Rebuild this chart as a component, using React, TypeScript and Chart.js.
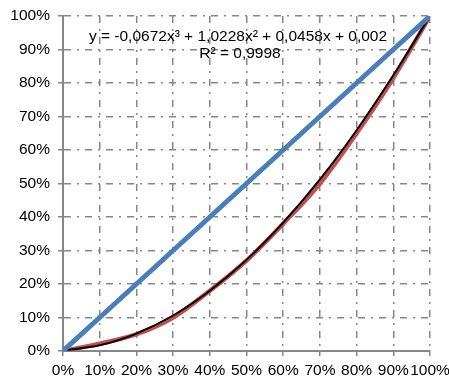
import React, { useEffect, useRef } from "react";
import { Chart, registerables } from "chart.js";

Chart.register(...registerables);

const xValues = [0, 10, 20, 30, 40, 50, 60, 70, 80, 90, 100];
const equalityLine = [0, 10, 20, 30, 40, 50, 60, 70, 80, 90, 100];
const lorenzValues = [0, 2.2, 5.0, 10.0, 18.0, 27.0, 38.0, 50.0, 65.0, 81.5, 100];
const trendValues = [0.2, 1.7, 5.2, 10.6, 18.0, 27.2, 38.3, 51.2, 65.9, 82.3, 100];
const equationText = "y = -0,0672x\u00B3 + 1,0228x\u00B2 + 0,0458x + 0,002";
const r2Text = "R\u00B2 = 0,9998";

const FONT = "'Liberation Sans', Arial, sans-serif";
const GRID = "#878787";
const DASH = [7, 6, 2, 6];

export default function App() {
  const ref = useRef<HTMLCanvasElement | null>(null);
  useEffect(() => {
    document.body.style.margin = "0";
    const ctx = ref.current!.getContext("2d")!;
    const pts = (ys: number[]) => xValues.map((x, i) => ({ x, y: ys[i] }));
    const eqPlugin = {
      id: "eq",
      afterDatasetsDraw(chart: any) {
        const c = chart.ctx;
        c.save();
        c.fillStyle = "#000";
        c.font = `15.5px ${FONT}`;
        c.textAlign = "center";
        c.textBaseline = "middle";
        c.fillText(equationText, 238, 37);
        c.fillText(r2Text, 240, 54);
        c.restore();
      },
    };
    const axisOpts = (extra: any) => ({
      type: "linear",
      min: 0,
      max: 100,
      ticks: {
        stepSize: 10,
        color: "#000",
        font: { family: FONT, size: 15.5 },
        maxRotation: 0,
        autoSkip: false,
        callback: (v: any) => `${v}%`,
        ...extra.ticks,
      },
      grid: {
        color: GRID,
        lineWidth: 1.5,
        tickLength: 5,
        tickBorderDash: [],
        tickColor: GRID,
      },
      border: { color: GRID, width: 2, dash: DASH },
      afterFit: extra.afterFit,
    });
    const chart = new Chart(ctx, {
      type: "scatter",
      data: {
        datasets: [
          {
            data: pts(equalityLine),
            borderColor: "#4a7ebb",
            borderWidth: 5,
            showLine: true,
            pointRadius: 0,
            order: 0,
          },
          {
            data: pts(trendValues),
            borderColor: "#000000",
            borderWidth: 2,
            showLine: true,
            pointRadius: 0,
            cubicInterpolationMode: "monotone",
            order: 1,
          },
          {
            data: pts(lorenzValues),
            borderColor: "#c0504d",
            borderWidth: 4.5,
            showLine: true,
            pointRadius: 0,
            cubicInterpolationMode: "monotone",
            order: 2,
          },
        ],
      },
      options: {
        animation: false,
        responsive: false,
        layout: { padding: { top: 16, right: 19, left: 0, bottom: 0 } },
        plugins: { legend: { display: false }, tooltip: { enabled: false } },
        scales: {
          x: axisOpts({
            ticks: { padding: 5 },
            afterFit: (s: any) => {
              s.height = 29;
              s.paddingRight = 0;
              s.paddingLeft = 0;
            },
          }),
          y: axisOpts({
            ticks: { padding: 8 },
            afterFit: (s: any) => {
              s.width = 63;
              s.paddingTop = 0;
              s.paddingBottom = 0;
            },
          }),
        },
      },
      plugins: [eqPlugin],
    } as any);
    return () => chart.destroy();
  }, []);
  return <canvas ref={ref} width={449} height={380} style={{ display: "block" }} />;
}
